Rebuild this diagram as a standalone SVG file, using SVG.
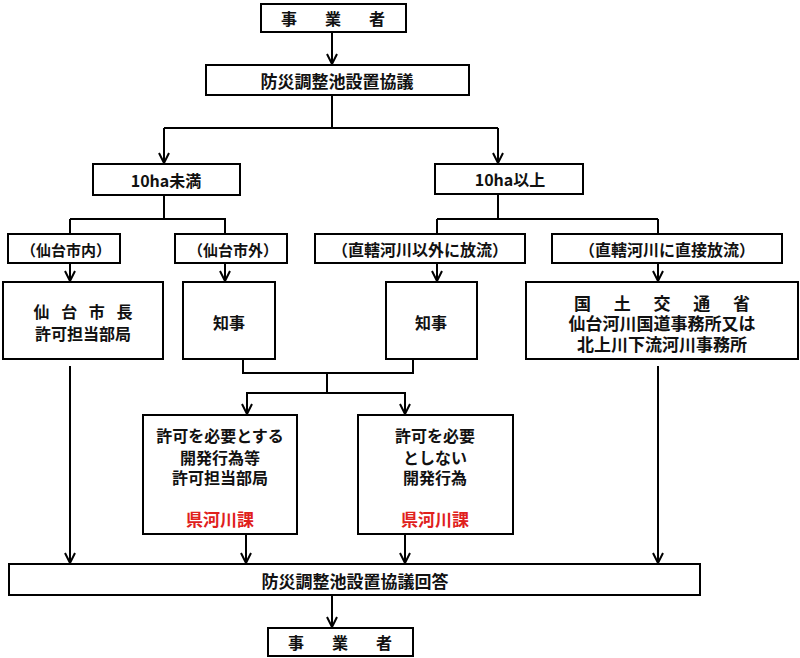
<svg xmlns="http://www.w3.org/2000/svg" width="800" height="658" viewBox="0 0 800 658">
<defs>
<marker id="arr" markerUnits="userSpaceOnUse" viewBox="0 0 12 12" refX="11" refY="6" markerWidth="12" markerHeight="12" orient="auto">
<path d="M1,1 L11,6 L1,11" fill="none" stroke="#000" stroke-width="2"/>
</marker>
<style>
rect{fill:#fff;stroke:#000;stroke-width:2}
text{font-family:"Noto Sans CJK JP","Noto Sans CJK SC",sans-serif;font-weight:bold;font-size:16px;text-anchor:middle;dominant-baseline:central;fill:#111}
.red{fill:#e0201c}
.c line,.c polyline{stroke:#000;stroke-width:2;fill:none}
.a{marker-end:url(#arr)}
</style>
</defs>
<rect x="0" y="0" width="800" height="658" style="fill:#fff;stroke:none"/>
<g class="c" id="connectors">
<line class="a" x1="332" y1="32" x2="332" y2="64"/>
<line x1="332" y1="96" x2="332" y2="128"/>
<line x1="164" y1="128" x2="498" y2="128"/>
<line class="a" x1="164" y1="128" x2="164" y2="163"/>
<line class="a" x1="498" y1="128" x2="498" y2="163"/>
<line x1="164" y1="195" x2="164" y2="219"/>
<line x1="70" y1="219" x2="226" y2="219"/>
<line x1="70" y1="219" x2="70" y2="234"/>
<line x1="225" y1="219" x2="225" y2="234"/>
<line x1="498" y1="194" x2="498" y2="219"/>
<line x1="437" y1="219" x2="658" y2="219"/>
<line x1="437" y1="219" x2="437" y2="234"/>
<line x1="658" y1="219" x2="658" y2="234"/>
<line class="a" x1="70" y1="263" x2="70" y2="281"/>
<line class="a" x1="225" y1="263" x2="225" y2="281"/>
<line class="a" x1="437" y1="263" x2="437" y2="281"/>
<line class="a" x1="658" y1="263" x2="658" y2="281"/>
<polyline points="243,359 243,373 413,373 413,359"/>
<line x1="327" y1="373" x2="327" y2="393"/>
<line x1="246" y1="393" x2="406" y2="393"/>
<line class="a" x1="247" y1="393" x2="247" y2="414"/>
<line class="a" x1="405" y1="393" x2="405" y2="414"/>
<line class="a" x1="70" y1="366" x2="70" y2="563"/>
<line class="a" x1="658" y1="366" x2="658" y2="563"/>
<line class="a" x1="246" y1="534" x2="246" y2="563"/>
<line class="a" x1="405" y1="534" x2="405" y2="563"/>
<line class="a" x1="332" y1="595" x2="332" y2="627"/>
</g>
<g id="n_jigyosha_top"><rect x="261" y="4" width="145" height="28"/><text x="333" y="18" textLength="104" lengthAdjust="spacing">事業者</text></g>
<g id="n_kyogi"><rect x="206" y="65" width="263" height="30"/><text x="337" y="80" font-size="17" style="font-size:17px">防災調整池設置協議</text></g>
<g id="n_10ha_u"><rect x="93" y="164" width="147" height="31"/><text x="166" y="180">10ha未満</text></g>
<g id="n_10ha_o"><rect x="435" y="164" width="148" height="30"/><text x="510" y="179">10ha以上</text></g>
<g id="n_nai"><rect x="8" y="234" width="112" height="29"/><text x="66" y="249" style="font-size:15px">（仙台市内）</text></g>
<g id="n_gai"><rect x="175" y="234" width="112" height="29"/><text x="233" y="249" style="font-size:15px">（仙台市外）</text></g>
<g id="n_igai"><rect x="315" y="234" width="210" height="29"/><text x="420" y="249">（直轄河川以外に放流）</text></g>
<g id="n_chokusetsu"><rect x="552" y="234" width="230" height="29"/><text x="667" y="249">（直轄河川に直接放流）</text></g>
<g id="n_shicho"><rect x="3" y="282" width="160" height="77"/><text x="83" y="311" textLength="99" lengthAdjust="spacing">仙台市長</text><text x="83" y="333">許可担当部局</text></g>
<g id="n_chiji_l"><rect x="183" y="282" width="92" height="77"/><text x="229" y="322">知事</text></g>
<g id="n_chiji_r"><rect x="386" y="282" width="91" height="77"/><text x="431" y="322">知事</text></g>
<g id="n_kokudo"><rect x="526" y="282" width="272" height="77"/><text x="662" y="302" textLength="176" lengthAdjust="spacing" style="font-size:17px">国土交通省</text><text x="662" y="322" style="font-size:17px">仙台河川国道事務所又は</text><text x="662" y="343" style="font-size:17px">北上川下流河川事務所</text></g>
<g id="n_hitsuyo"><rect x="143" y="415" width="154" height="119"/><text x="220" y="435">許可を必要とする</text><text x="220" y="457">開発行為等</text><text x="220" y="477">許可担当部局</text><text class="red" x="220" y="518" style="font-size:17px">県河川課</text></g>
<g id="n_fuyo"><rect x="358" y="415" width="155" height="119"/><text x="435" y="435">許可を必要</text><text x="435" y="457">としない</text><text x="435" y="477">開発行為</text><text class="red" x="435" y="518" style="font-size:17px">県河川課</text></g>
<g id="n_kaito"><rect x="9" y="564" width="691" height="31"/><text x="355" y="580" style="font-size:17px">防災調整池設置協議回答</text></g>
<g id="n_jigyosha_bottom"><rect x="268" y="628" width="145" height="28"/><text x="340" y="642" textLength="104" lengthAdjust="spacing">事業者</text></g>
</svg>
